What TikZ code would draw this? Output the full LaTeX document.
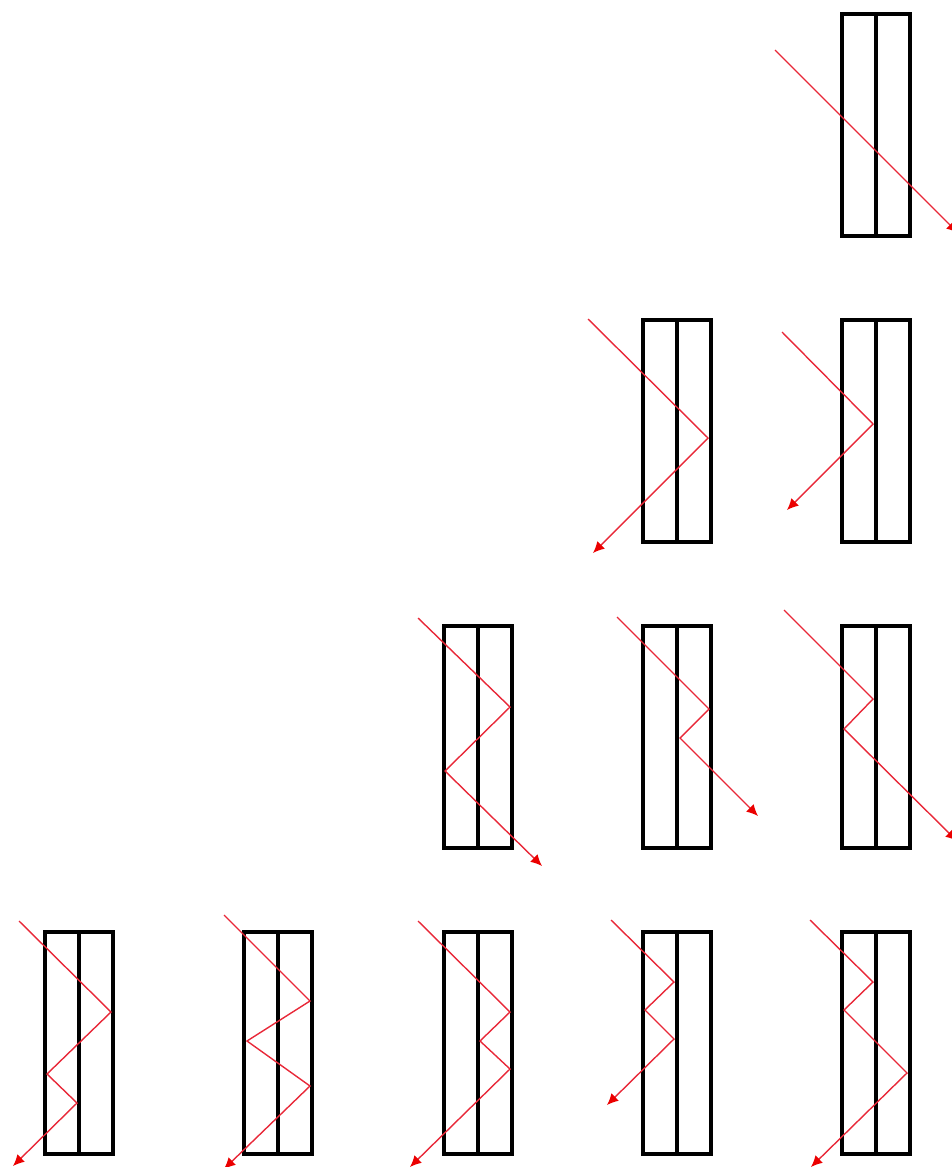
\documentclass[tikz,border=0pt]{standalone}
\usetikzlibrary{arrows.meta}
\definecolor{rayred}{RGB}{232,40,56}
\tikzset{
  wall/.style={draw=black,line width=2.3pt,line join=miter},
  ray/.style={draw=rayred,line width=1.05pt,line join=miter,-{Latex[length=8.5pt,width=8pt,color=red!92!black]}},
}
\newcommand{\slab}[2]{%
  \draw[wall] (#1,#2) rectangle ++(68,222);
  \draw[wall] (#1+34,#2) -- ++(0,222);
}
\begin{document}
\begin{tikzpicture}[x=0.75pt,y=-0.75pt]
\useasboundingbox (0,0) rectangle (952,1167);
\clip (0,0) rectangle (952,1167);
% slabs
\slab{842}{14}
\slab{643}{320}
\slab{842}{320}
\slab{444}{626}
\slab{643}{626}
\slab{842}{626}
\slab{45}{932}
\slab{244}{932}
\slab{444}{932}
\slab{643}{932}
\slab{842}{932}
% rays
\draw[ray] (775,50) -- (958,233);
\draw[ray] (588,319) -- (708,438) -- (593,553);
\draw[ray] (782,332) -- (873,424) -- (787,510);
\draw[ray] (418,618) -- (510,707) -- (445,771) -- (542,866);
\draw[ray] (617,617) -- (709,709) -- (680,738) -- (758,816);
\draw[ray] (784,610) -- (873,699) -- (844,729) -- (957,841);
\draw[ray] (19,921) -- (111,1012) -- (47,1074) -- (77,1103) -- (13,1166);
\draw[ray] (224,915) -- (310,1001) -- (247,1041) -- (310,1086) -- (224,1169);
\draw[ray] (418,921) -- (510,1012) -- (480,1041) -- (510,1069) -- (410,1167);
\draw[ray] (611,920) -- (674,982) -- (645,1010) -- (674,1039) -- (607,1105);
\draw[ray] (810,920) -- (873,982) -- (844,1010) -- (907,1073) -- (811,1167);
\end{tikzpicture}
\end{document}
